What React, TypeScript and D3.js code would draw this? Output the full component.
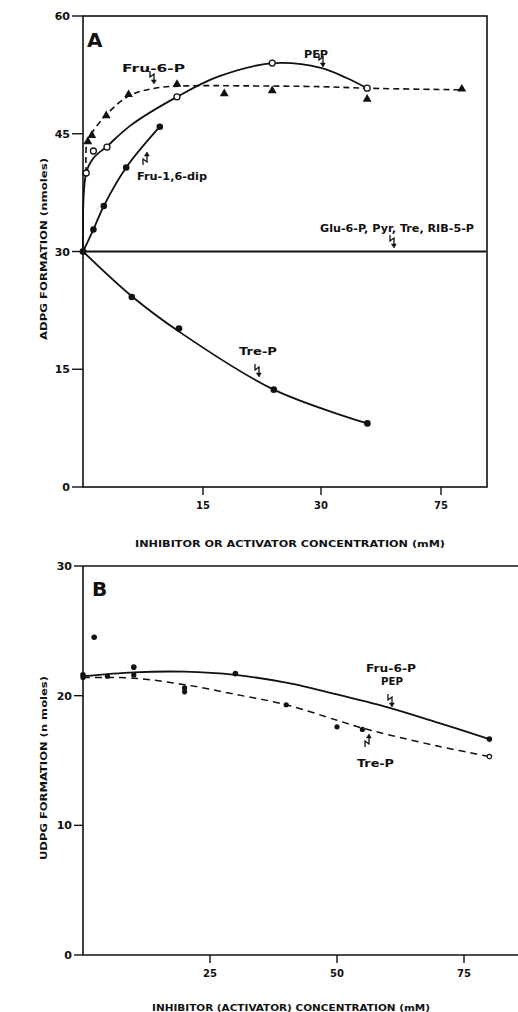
import React from "react";
import * as d3 from "d3";

// ---------- Panel A: ADPG formation ----------
const aTickX = [15, 30, 75];
const aTickY = [0, 15, 30, 45, 60];

// measured points
const aFru6P = [
  [0.6, 44.0], [1.1, 44.8], [2.9, 47.3], [5.7, 50.0], [11.75, 51.3],
  [17.7, 50.1], [23.8, 50.5], [47.3, 49.4], [82.8, 50.7],
];
const aPEP = [
  [0.4, 40.0], [1.3, 42.8], [3.0, 43.3], [11.75, 49.7], [23.8, 54.0], [47.3, 50.8],
];
const aFru16 = [
  [0, 30], [1.3, 32.8], [2.6, 35.8], [5.4, 40.7], [9.6, 45.9],
];
const aTreP = [
  [0, 30], [6.1, 24.2], [12.0, 20.2], [24.0, 12.4], [47.4, 8.1],
];

// fitted curves
const aFru6PFit = [
  [0.4, 40], [0.5, 44], [1.1, 45.1], [2.9, 47.4], [5.7, 49.8], [9, 50.8],
  [13, 51.1], [20, 51.1], [30, 51.0], [47.3, 50.8], [82.8, 50.6],
];
const aPEPFit = [
  [0, 30], [0.4, 40], [1.3, 41.9], [3, 43.4], [6, 46.1], [11.75, 49.7],
  [17, 52.3], [24, 54.0], [30, 53.4], [39.6, 52.1], [47.3, 50.8],
];
const aFru16Fit = aFru16;
const aTrePFit = [
  [0, 30], [6.1, 24.3], [12, 19.8], [24, 12.4], [47.4, 8.1],
];
const aControl = [[0, 30], [92, 30]];

// ---------- Panel B: UDPG formation ----------
const bTickX = [25, 50, 75];
const bTickY = [0, 10, 20, 30];

const bSolidPts = [
  [0, 21.6], [2.2, 24.5], [10, 22.2], [30, 21.7], [80, 16.65],
];
const bDashedPts = [
  [0, 21.4], [4.8, 21.5], [10, 21.6], [20, 20.6], [20, 20.3],
  [40, 19.3], [50, 17.6], [55, 17.4],
];
const bDashedEnd = [[80, 15.3]];

const bSolidFit = [
  [0, 21.5], [10, 21.8], [20, 21.85], [30, 21.6], [40, 21.0], [50, 20.1],
  [60, 19.1], [70, 17.9], [80, 16.65],
];
const bDashedFit = [
  [0, 21.4], [10, 21.35], [20, 20.85], [30, 20.1], [40, 19.3], [50, 18.1],
  [55, 17.5], [60, 17.0], [70, 16.1], [80, 15.3],
];

const FONT = "'DejaVu Sans', 'Liberation Sans', sans-serif";
const INK = "#111";

function Squiggle({ x, y, up = false }: { x: number; y: number; up?: boolean }) {
  // small lightning-style pointer; (x, y) is the arrow tip
  const s = up ? -1 : 1;
  const p = `M${x - 3},${y - 13 * s} L${x - 3},${y - 7 * s} L${x + 1},${y - 10 * s} L${x + 1},${y - 2 * s}`;
  const head = `M${x - 1.6},${y - 4 * s} L${x + 1},${y} L${x + 3.2},${y - 4 * s} Z`;
  return (
    <g>
      <path d={p} fill="none" stroke={INK} strokeWidth={1.3} />
      <path d={head} fill={INK} stroke={INK} strokeWidth={0.6} />
    </g>
  );
}

function Label({ x, y, w, text, size = 11 }: { x: number; y: number; w: number; text: string; size?: number }) {
  return (
    <text x={x} y={y} fontSize={size} fontWeight="bold" fontFamily={FONT} fill={INK}
      textLength={w} lengthAdjust="spacingAndGlyphs">{text}</text>
  );
}

export default function App() {
  // Panel A scales (axis is broken after 30: tick "75" sits one step further)
  const xA = d3.scaleLinear().domain([0, 15, 30, 75]).range([83, 203, 321, 441]);
  const yA = d3.scaleLinear().domain([0, 60]).range([487, 16]);
  const lineA = (curve: d3.CurveFactory) =>
    d3.line<number[]>().x((d) => xA(d[0])).y((d) => yA(d[1])).curve(curve);
  const smooth = d3.curveCatmullRom.alpha(0.5);

  // Panel B scales
  const xB = d3.scaleLinear().domain([0, 75]).range([83, 464]);
  const yB = d3.scaleLinear().domain([0, 30]).range([955, 566]);
  const lineB = d3.line<number[]>().x((d) => xB(d[0])).y((d) => yB(d[1])).curve(smooth);

  const tri = d3.symbol().type(d3.symbolTriangle).size(34)();

  return (
    <svg width={518} height={1012} style={{ position: "absolute", left: 0, top: 0, background: "#fff" }}>
      {/* ---------- Panel A ---------- */}
      <rect x={83} y={16} width={404} height={471} fill="none" stroke={INK} strokeWidth={1.6} />
      {aTickY.map((v) => (
        <g key={"ay" + v}>
          <line x1={72} x2={83} y1={yA(v)} y2={yA(v)} stroke={INK} strokeWidth={1.4} />
          <text x={70} y={yA(v) + 4} textAnchor="end" fontSize={11} fontWeight="bold" fontFamily={FONT} fill={INK}>{v}</text>
        </g>
      ))}
      {aTickX.map((v) => (
        <g key={"ax" + v}>
          <line x1={xA(v)} x2={xA(v)} y1={487} y2={495} stroke={INK} strokeWidth={1.4} />
          <text x={xA(v)} y={509} textAnchor="middle" fontSize={10} fontWeight="bold" fontFamily={FONT} fill={INK}>{v}</text>
        </g>
      ))}
      <text x={290} y={547} textAnchor="middle" fontSize={9} fontWeight="bold" fontFamily={FONT} fill={INK}
        textLength={310} lengthAdjust="spacingAndGlyphs">INHIBITOR OR ACTIVATOR CONCENTRATION (mM)</text>
      <text transform="translate(47,249) rotate(-90)" textAnchor="middle" fontSize={9} fontWeight="bold" fontFamily={FONT} fill={INK}
        textLength={182} lengthAdjust="spacingAndGlyphs">ADPG FORMATION  (nmoles)</text>
      <text x={87} y={47} fontSize={20} fontWeight="bold" fontFamily={FONT} fill={INK}>A</text>

      <path d={lineA(d3.curveLinear)(aControl) || ""} fill="none" stroke={INK} strokeWidth={1.8} />
      <path d={lineA(smooth)(aFru6PFit) || ""} fill="none" stroke={INK} strokeWidth={1.6} strokeDasharray="6,4" />
      <path d={lineA(smooth)(aPEPFit) || ""} fill="none" stroke={INK} strokeWidth={1.8} />
      <path d={lineA(smooth)(aFru16Fit) || ""} fill="none" stroke={INK} strokeWidth={1.8} />
      <path d={lineA(smooth)(aTrePFit) || ""} fill="none" stroke={INK} strokeWidth={1.8} />

      {aFru6P.map((d, i) => (
        <path key={"t" + i} d={tri || ""} transform={`translate(${xA(d[0])},${yA(d[1])})`} fill={INK} />
      ))}
      {aPEP.map((d, i) => (
        <circle key={"o" + i} cx={xA(d[0])} cy={yA(d[1])} r={3} fill="#fff" stroke={INK} strokeWidth={1.3} />
      ))}
      {aFru16.map((d, i) => (
        <circle key={"f" + i} cx={xA(d[0])} cy={yA(d[1])} r={3.3} fill={INK} />
      ))}
      {aTreP.map((d, i) => (
        <circle key={"r" + i} cx={xA(d[0])} cy={yA(d[1])} r={3.3} fill={INK} />
      ))}

      <Label x={122} y={72} w={63} text="Fru-6-P" />
      <Squiggle x={153} y={84} />
      <Label x={304} y={57.5} w={24} text="PEP" />
      <Squiggle x={322} y={67} />
      <Label x={137} y={180} w={70} text="Fru-1,6-dip" />
      <Squiggle x={146} y={152} up />
      <Label x={320} y={232} w={154} text="Glu-6-P, Pyr, Tre, RIB-5-P" />
      <Squiggle x={393} y={248} />
      <Label x={239} y={355} w={38} text="Tre-P" />
      <Squiggle x={258} y={377} />

      {/* ---------- Panel B ---------- */}
      <line x1={83} x2={518} y1={566} y2={566} stroke={INK} strokeWidth={1.6} />
      <line x1={83} x2={83} y1={566} y2={955} stroke={INK} strokeWidth={1.6} />
      <line x1={83} x2={518} y1={955} y2={955} stroke={INK} strokeWidth={1.6} />
      {bTickY.map((v) => (
        <g key={"by" + v}>
          <line x1={74} x2={83} y1={yB(v)} y2={yB(v)} stroke={INK} strokeWidth={1.4} />
          <text x={72} y={yB(v) + 4} textAnchor="end" fontSize={11} fontWeight="bold" fontFamily={FONT} fill={INK}>{v}</text>
        </g>
      ))}
      {bTickX.map((v) => (
        <g key={"bx" + v}>
          <line x1={xB(v)} x2={xB(v)} y1={955} y2={963} stroke={INK} strokeWidth={1.4} />
          <text x={xB(v)} y={977} textAnchor="middle" fontSize={10} fontWeight="bold" fontFamily={FONT} fill={INK}>{v}</text>
        </g>
      ))}
      <text x={291} y={1011} textAnchor="middle" fontSize={9} fontWeight="bold" fontFamily={FONT} fill={INK}
        textLength={278} lengthAdjust="spacingAndGlyphs">INHIBITOR (ACTIVATOR) CONCENTRATION (mM)</text>
      <text transform="translate(47,768) rotate(-90)" textAnchor="middle" fontSize={9} fontWeight="bold" fontFamily={FONT} fill={INK}
        textLength={184} lengthAdjust="spacingAndGlyphs">UDPG FORMATION  (n moles)</text>
      <text x={92} y={596} fontSize={20} fontWeight="bold" fontFamily={FONT} fill={INK}>B</text>

      <path d={lineB(bSolidFit) || ""} fill="none" stroke={INK} strokeWidth={1.8} />
      <path d={lineB(bDashedFit) || ""} fill="none" stroke={INK} strokeWidth={1.5} strokeDasharray="7,5" />
      {bSolidPts.map((d, i) => (
        <circle key={"bs" + i} cx={xB(d[0])} cy={yB(d[1])} r={2.8} fill={INK} />
      ))}
      {bDashedPts.map((d, i) => (
        <circle key={"bd" + i} cx={xB(d[0])} cy={yB(d[1])} r={2.6} fill={INK} />
      ))}
      {bDashedEnd.map((d, i) => (
        <circle key={"be" + i} cx={xB(d[0])} cy={yB(d[1])} r={2.2} fill="#fff" stroke={INK} strokeWidth={1.2} />
      ))}

      <Label x={366} y={672} w={50} text="Fru-6-P" size={10} />
      <Label x={381} y={685} w={22} text="PEP" size={10} />
      <Squiggle x={391} y={707} />
      <Label x={357} y={767} w={37} text="Tre-P" size={10} />
      <Squiggle x={368} y={734} up />
    </svg>
  );
}
